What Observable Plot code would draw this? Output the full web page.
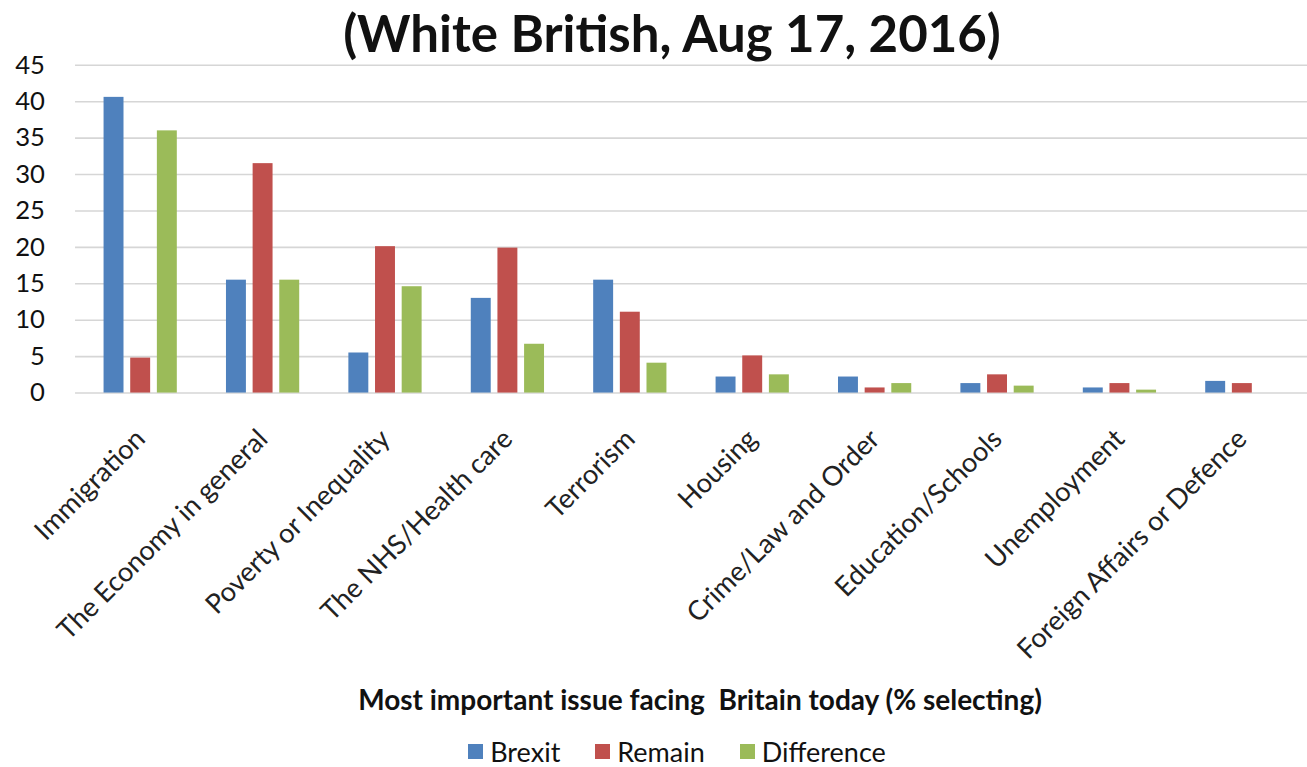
<!DOCTYPE html>
<html>
<head>
<meta charset="utf-8">
<script src="https://cdn.jsdelivr.net/npm/d3@7"></script>
<script src="https://cdn.jsdelivr.net/npm/@observablehq/plot@0.6"></script>
<style>
  html, body { margin: 0; padding: 0; background: #fff; overflow: hidden; }
  #wrap { position: relative; width: 1307px; height: 767px; font-family: Lato, "Open Sans", sans-serif; color: #111; }
  #title { position: absolute; left: 0; width: 1344px; top: 5px; text-align: center; font-size: 51px; font-weight: 700; line-height: 56px; }
  #chart { position: absolute; left: 0; top: 51px; }
  #chart svg { overflow: visible; }
  #xtitle { position: absolute; left: 0; width: 1400px; top: 682px; text-align: center; font-size: 28px; font-weight: 700; line-height: 34px; }
  #legend { position: absolute; left: 0; width: 1354px; top: 735px; display: flex; justify-content: center; }
  #legend svg { margin-right: 7px !important; }
  #legend span { margin-right: 35px !important; }
  #legend span:last-child { margin-right: 0 !important; }
</style>
</head>
<body>
<div id="wrap">
  <div id="title">(White British, Aug 17, 2016)</div>
  <div id="chart"></div>
  <div id="xtitle">Most important issue facing&nbsp; Britain today (% selecting)</div>
  <div id="legend"></div>
</div>
<script>
// Issues, in the order they appear along the axis
const issues = [
  "Immigration",
  "The Economy in general",
  "Poverty or Inequality",
  "The NHS/Health care",
  "Terrorism",
  "Housing",
  "Crime/Law and Order",
  "Education/Schools",
  "Unemployment",
  "Foreign Affairs or Defence"
];

// Share selecting each issue (%)
const brexit     = [40.6, 15.5,  5.5, 13.0, 15.5, 2.2, 2.2, 1.3, 0.7, 1.6];
const remain     = [ 4.8, 31.5, 20.1, 19.9, 11.1, 5.1, 0.7, 2.5, 1.3, 1.3];
const difference = [36.0, 15.5, 14.6,  6.7,  4.1, 2.5, 1.3, 0.95, 0.4, null];

const seriesNames = ["Brexit", "Remain", "Difference"];
const seriesColors = ["#4f81bd", "#c0504d", "#9bbb59"];
const yTicks = [0, 5, 10, 15, 20, 25, 30, 35, 40, 45];

const font = 'Lato, "Open Sans", sans-serif';

// One bar mark per series, shifted within each issue's band
const seriesValues = [brexit, remain, difference];
const groupOffsets = [-27, 0, 27];
const barHalfGap = 51.9; // band step minus bar width, halved

const bars = seriesNames.map((name, s) => {
  const rows = issues
    .map((issue, i) => ({issue, series: name, value: seriesValues[s][i]}))
    .filter(d => d.value != null);
  return Plot.barY(rows, {
    x: "issue", y: "value", fill: "series",
    dx: groupOffsets[s], insetLeft: barHalfGap, insetRight: barHalfGap
  });
});

const chart = Plot.plot({
  width: 1324,
  height: 620,
  marginTop: 14,
  marginLeft: 76,
  marginRight: 0,
  marginBottom: 274,
  style: {fontFamily: font, fontSize: "24px", color: "#111", background: "transparent"},
  x: {domain: issues, padding: 0, label: null},
  y: {domain: [0, 45], ticks: yTicks, label: null},
  color: {domain: seriesNames, range: seriesColors},
  marks: [
    Plot.gridY(yTicks, {stroke: "#d6d6d6", strokeOpacity: 1, strokeWidth: 1.6}),
    Plot.axisY(yTicks, {tickSize: 0, tickPadding: 31, fontSize: 26, label: null, fill: "#111"}),
    Plot.axisX({anchor: "bottom", tickSize: 0, tickRotate: -45, tickPadding: 42, dx: 0, fontSize: 27.5, label: null, fill: "#222"}),
    ...bars
  ]
});
document.getElementById("chart").appendChild(chart);

const legend = Plot.legend({
  color: {domain: seriesNames, range: seriesColors},
  legend: "swatches",
  swatchSize: 15,
  style: {fontFamily: font, fontSize: "27px", color: "#111"}
});
document.getElementById("legend").appendChild(legend);
</script>
</body>
</html>
